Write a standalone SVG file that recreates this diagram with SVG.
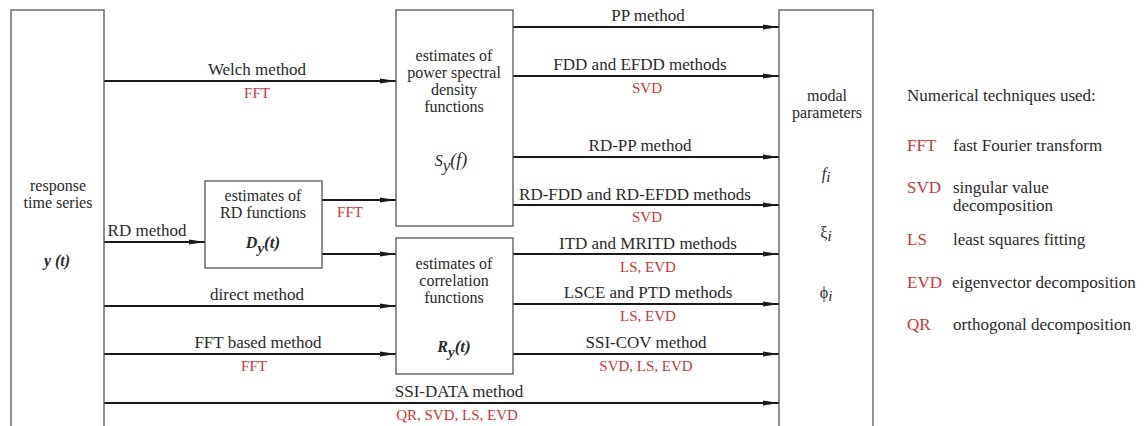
<svg xmlns="http://www.w3.org/2000/svg" width="1147" height="426" viewBox="0 0 1147 426">
  <style>
    .box { fill: #ffffff; stroke: #555555; stroke-width: 1.3; }
    .edge { stroke: #1a1a1a; stroke-width: 1.8; fill: none; marker-end: url(#arrow); }
    text { font-family: "Times New Roman", "Liberation Serif", "DejaVu Serif", serif; fill: #2a2a2a; }
    .lbl { font-size: 17px; text-anchor: middle; }
    .tech { font-size: 15px; text-anchor: middle; fill: #c8373a; }
    .node { font-size: 16px; text-anchor: middle; }
    .math { font-style: italic; font-weight: bold; }
    .legk { font-size: 17px; fill: #c8373a; }
    .legd { font-size: 17px; }
  </style>
  <defs>
    <marker id="arrow" markerWidth="16" markerHeight="6" refX="16" refY="3" orient="auto" markerUnits="userSpaceOnUse">
      <path d="M0,0.4 L16,3 L0,5.6 Z" fill="#1a1a1a"/>
    </marker>
  </defs>

  <!-- connectors -->
  <g id="connectors">
    <line class="edge" x1="104" y1="81" x2="396" y2="81"/>
    <line class="edge" x1="104" y1="242" x2="205" y2="242"/>
    <line class="edge" x1="322" y1="200" x2="396" y2="200"/>
    <line class="edge" x1="322" y1="254" x2="396" y2="254"/>
    <line class="edge" x1="104" y1="306" x2="396" y2="306"/>
    <line class="edge" x1="104" y1="354" x2="396" y2="354"/>
    <line class="edge" x1="104" y1="403" x2="779" y2="403"/>
    <line class="edge" x1="513" y1="27" x2="779" y2="27"/>
    <line class="edge" x1="513" y1="76" x2="779" y2="76"/>
    <line class="edge" x1="513" y1="157" x2="779" y2="157"/>
    <line class="edge" x1="513" y1="205" x2="779" y2="205"/>
    <line class="edge" x1="513" y1="254" x2="779" y2="254"/>
    <line class="edge" x1="513" y1="304" x2="779" y2="304"/>
    <line class="edge" x1="513" y1="354" x2="779" y2="354"/>

    <!-- method names and numerical techniques -->
    <text class="lbl" x="257" y="75">Welch method</text>
    <text class="tech" x="257" y="98">FFT</text>
    <text class="lbl" x="147" y="236">RD method</text>
    <text class="tech" x="350" y="217">FFT</text>
    <text class="lbl" x="257" y="300">direct method</text>
    <text class="lbl" x="258" y="348">FFT based method</text>
    <text class="tech" x="254" y="371">FFT</text>
    <text class="lbl" x="459" y="397">SSI-DATA method</text>
    <text class="tech" x="457" y="420">QR, SVD, LS, EVD</text>

    <text class="lbl" x="648" y="21">PP method</text>
    <text class="lbl" x="640" y="70">FDD and EFDD methods</text>
    <text class="tech" x="647" y="93">SVD</text>
    <text class="lbl" x="640" y="151">RD-PP method</text>
    <text class="lbl" x="635" y="200">RD-FDD and RD-EFDD methods</text>
    <text class="tech" x="647" y="222">SVD</text>
    <text class="lbl" x="648" y="249">ITD and MRITD methods</text>
    <text class="tech" x="648" y="272">LS, EVD</text>
    <text class="lbl" x="648" y="298">LSCE and PTD methods</text>
    <text class="tech" x="648" y="321">LS, EVD</text>
    <text class="lbl" x="646" y="348">SSI-COV method</text>
    <text class="tech" x="646" y="371">SVD, LS, EVD</text>
  </g>

  <!-- response time series -->
  <g id="node-response">
    <rect class="box" x="11" y="10" width="93" height="420"/>
    <text class="node" x="58" y="191">response</text>
    <text class="node" x="58" y="208">time series</text>
    <text class="node math" x="57" y="266">y (t)</text>
  </g>

  <!-- random decrement functions -->
  <g id="node-rd">
    <rect class="box" x="205" y="181" width="117" height="87"/>
    <text class="node" x="263" y="201">estimates of</text>
    <text class="node" x="263" y="218">RD functions</text>
    <text class="node math" x="263" y="248" font-size="21">D<tspan font-size="15" dy="5">y</tspan><tspan font-size="17" dy="-5">(t)</tspan></text>
  </g>

  <!-- power spectral density -->
  <g id="node-psd">
    <rect class="box" x="396" y="10" width="117" height="216"/>
    <text class="node" x="454" y="61">estimates of</text>
    <text class="node" x="454" y="78">power spectral</text>
    <text class="node" x="454" y="95">density</text>
    <text class="node" x="454" y="112">functions</text>
    <text class="node" x="451" y="166" font-style="italic" font-size="25">S<tspan font-size="17" dy="5">y</tspan><tspan font-size="18" dy="-5">(f)</tspan></text>
  </g>

  <!-- correlation functions -->
  <g id="node-corr">
    <rect class="box" x="396" y="238" width="117" height="136"/>
    <text class="node" x="454" y="269">estimates of</text>
    <text class="node" x="454" y="286">correlation</text>
    <text class="node" x="454" y="303">functions</text>
    <text class="node math" x="454" y="352" font-size="21">R<tspan font-size="15" dy="5">y</tspan><tspan font-size="17" dy="-5">(t)</tspan></text>
  </g>

  <!-- modal parameters -->
  <g id="node-modal">
    <rect class="box" x="779" y="10" width="94" height="420"/>
    <text class="node" x="827" y="101">modal</text>
    <text class="node" x="827" y="118">parameters</text>
    <text class="node" x="826" y="179" font-style="italic" font-size="21">f<tspan font-size="15" dy="3">i</tspan></text>
    <text class="node" x="826" y="238" font-size="20">ξ<tspan font-size="15" dy="3" font-style="italic">i</tspan></text>
    <text class="node" x="826" y="298" font-size="20">ϕ<tspan font-size="15" dy="3" font-style="italic">i</tspan></text>
  </g>

  <!-- legend -->
  <g id="legend">
    <text class="legd" x="907" y="101">Numerical techniques used:</text>
    <text class="legk" x="907" y="151">FFT</text>
    <text class="legd" x="953" y="151">fast Fourier transform</text>
    <text class="legk" x="907" y="193">SVD</text>
    <text class="legd" x="953" y="193">singular value</text>
    <text class="legd" x="953" y="211">decomposition</text>
    <text class="legk" x="907" y="245">LS</text>
    <text class="legd" x="953" y="245">least squares fitting</text>
    <text class="legk" x="907" y="288">EVD</text>
    <text class="legd" x="952" y="288">eigenvector decomposition</text>
    <text class="legk" x="907" y="330">QR</text>
    <text class="legd" x="953" y="330">orthogonal decomposition</text>
  </g>
</svg>
